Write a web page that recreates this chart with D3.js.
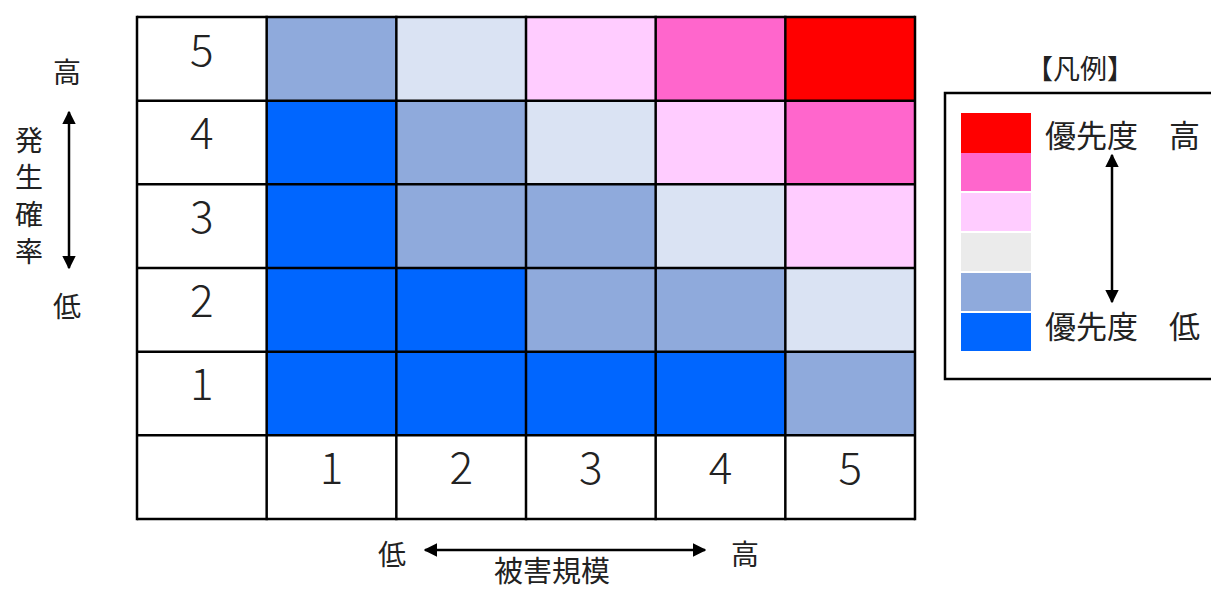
<!DOCTYPE html>
<html>
<head>
<meta charset="utf-8">
<script src="https://cdn.jsdelivr.net/npm/d3@7"></script>
<style>
  body { margin: 0; background: #fff; }
  text { font-family: "Noto Sans CJK JP", "Noto Sans", sans-serif; fill: #222; }
</style>
</head>
<body>
<svg id="risk-matrix"></svg>
<script>
// Axis categories
const impactLevels = [1, 2, 3, 4, 5];        // 被害規模 (columns)
const probLevels = [5, 4, 3, 2, 1];          // 発生確率 (rows, top to bottom)

// Priority rank per cell, rows follow probLevels, columns follow impactLevels
const priority = [
    [2, 3, 4, 5, 6],
    [1, 2, 3, 4, 5],
    [1, 2, 2, 3, 4],
    [1, 1, 2, 2, 3],
    [1, 1, 1, 1, 2]
];

// Cell colours by priority rank
const cellColors = ["#0066ff", "#8faadc", "#dae3f3", "#ffccff", "#ff66cc", "#ff0000"];
// Legend colours, top (high) to bottom (low)
const legendColors = ["#ff0000", "#ff66cc", "#ffccff", "#ebebeb", "#8faadc", "#0066ff"];

function drawMatrix() {
    const W = 1211, H = 591;
    const svg = d3.select("#risk-matrix")
        .attr("width", W)
        .attr("height", H);

    // grid geometry: one label column + 5 data columns, 5 data rows + one label row
    const gridLeft = 137, gridRight = 915, gridTop = 17, gridBottom = 519;

    const x = d3.scaleBand()
        .domain(["label"].concat(impactLevels))
        .range([gridLeft, gridRight]);
    const y = d3.scaleBand()
        .domain(probLevels.concat(["label"]))
        .range([gridTop, gridBottom]);

    const color = d3.scaleOrdinal()
        .domain([1, 2, 3, 4, 5, 6])
        .range(cellColors);

    const cells = [];
    probLevels.forEach((p, i) => {
        impactLevels.forEach((c, j) => {
            cells.push({ prob: p, impact: c, rank: priority[i][j] });
        });
    });

    const g = svg.append("g");

    g.selectAll("rect.cell")
        .data(cells)
        .enter()
        .append("rect")
        .attr("x", d => x(d.impact))
        .attr("y", d => y(d.prob))
        .attr("width", x.bandwidth())
        .attr("height", y.bandwidth())
        .attr("fill", d => color(d.rank));

    // grid lines
    const cols = x.domain().map(d => x(d)).concat([gridRight]);
    const rows = y.domain().map(d => y(d)).concat([gridBottom]);
    g.selectAll("line.v")
        .data(cols)
        .enter()
        .append("line")
        .attr("x1", d => d).attr("x2", d => d)
        .attr("y1", gridTop - 1.25).attr("y2", gridBottom + 1.25)
        .attr("stroke", "#000")
        .attr("stroke-width", 2.5);
    g.selectAll("line.h")
        .data(rows)
        .enter()
        .append("line")
        .attr("y1", d => d).attr("y2", d => d)
        .attr("x1", gridLeft).attr("x2", gridRight)
        .attr("stroke", "#000")
        .attr("stroke-width", 2.5);

    // row and column numbers (sit a little above the cell middle)
    g.selectAll("text.prob")
        .data(probLevels)
        .enter()
        .append("text")
        .attr("x", x("label") + x.bandwidth() / 2)
        .attr("y", d => y(d) + y.bandwidth() / 2 - 9)
        .attr("dy", "0.36em")
        .attr("text-anchor", "middle")
        .style("font-size", "44px")
        .style("font-weight", 300)
        .text(d => d);

    g.selectAll("text.impact")
        .data(impactLevels)
        .enter()
        .append("text")
        .attr("x", d => x(d) + x.bandwidth() / 2)
        .attr("y", y("label") + y.bandwidth() / 2 - 9)
        .attr("dy", "0.36em")
        .attr("text-anchor", "middle")
        .style("font-size", "44px")
        .style("font-weight", 300)
        .text(d => d);

    // arrow marker
    const defs = svg.append("defs");
    defs.append("marker")
        .attr("id", "arrow")
        .attr("viewBox", "0 0 10 10")
        .attr("refX", 9).attr("refY", 5)
        .attr("markerWidth", 5.5).attr("markerHeight", 5.5)
        .attr("orient", "auto-start-reverse")
        .append("path")
        .attr("d", "M0,0 L10,5 L0,10 Z")
        .attr("fill", "#000");

    function arrow(x1, y1, x2, y2) {
        svg.append("line")
            .attr("x1", x1).attr("y1", y1)
            .attr("x2", x2).attr("y2", y2)
            .attr("stroke", "#000")
            .attr("stroke-width", 2.5)
            .attr("marker-start", "url(#arrow)")
            .attr("marker-end", "url(#arrow)");
    }

    function label(txt, lx, ly, size) {
        svg.append("text")
            .attr("x", lx).attr("y", ly)
            .attr("dy", "0.36em")
            .attr("text-anchor", "middle")
            .style("font-size", size + "px")
            .text(txt);
    }

    // left axis: 発生確率
    label("高", 67, 73, 28);
    label("低", 67, 307, 28);
    arrow(69, 112, 69, 268);
    ["発", "生", "確", "率"].forEach((ch, i) => label(ch, 29, 141 + i * 37, 28));

    // bottom axis: 被害規模
    label("低", 392, 555, 28);
    label("高", 745, 555, 28);
    arrow(425, 550, 705, 550);
    label("被害規模", 552, 572, 29);

    // legend
    label("【凡例】", 1080, 69, 27);
    svg.append("rect")
        .attr("x", 945).attr("y", 93)
        .attr("width", 290).attr("height", 286)
        .attr("fill", "#fff")
        .attr("stroke", "#000")
        .attr("stroke-width", 2.5);

    const ly = d3.scaleBand()
        .domain(d3.range(legendColors.length))
        .range([113, 351])
        .paddingInner(0.05);
    svg.selectAll("rect.legend")
        .data(legendColors)
        .enter()
        .append("rect")
        .attr("x", 961)
        .attr("y", (d, i) => ly(i))
        .attr("width", 70)
        .attr("height", (d, i) => i === 0 ? ly.step() : ly.bandwidth())
        .attr("fill", d => d);

    svg.append("text")
        .attr("x", 1045).attr("y", 136)
        .attr("dy", "0.36em")
        .style("font-size", "31px")
        .text("優先度　高");
    svg.append("text")
        .attr("x", 1045).attr("y", 327)
        .attr("dy", "0.36em")
        .style("font-size", "31px")
        .text("優先度　低");
    arrow(1112, 155, 1112, 302);
}

document.addEventListener("DOMContentLoaded", drawMatrix);
</script>
</body>
</html>
